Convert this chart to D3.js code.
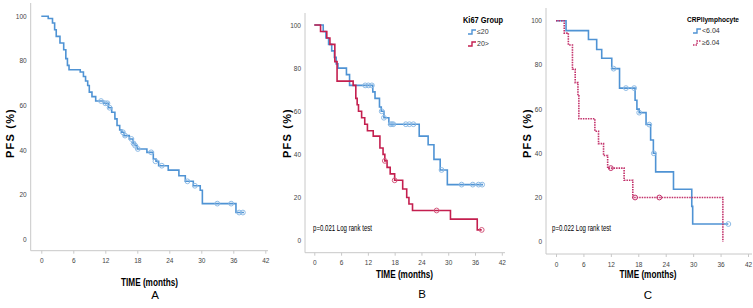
<!DOCTYPE html>
<html>
<head>
<meta charset="utf-8">
<script src="https://cdnjs.cloudflare.com/ajax/libs/d3/7.8.5/d3.min.js"></script>
<style>
  body { margin: 0; background: #fff; }
  svg { display: block; }
  .tick text { font-family: "Liberation Sans Narrow", "Liberation Sans", Arial, sans-serif; font-size: 6.5px; fill: #444; }
  .axis path, .axis line { stroke: #c8c8c8; }
  .ylab { font-family: "Liberation Sans", Arial, sans-serif; font-weight: bold; font-size: 11px; letter-spacing: 1.2px; }
  .xlab { font-family: "Liberation Sans", Arial, sans-serif; font-weight: bold; font-size: 11.5px; }
  .panel { font-family: "Liberation Sans", Arial, sans-serif; font-size: 11.5px; }
  .note { font-family: "Liberation Sans", Arial, sans-serif; font-size: 9.5px; }
  .legtitle { font-family: "Liberation Sans", Arial, sans-serif; font-weight: bold; }
  .legtext { font-family: "Liberation Sans", Arial, sans-serif; font-size: 7px; fill: #333; }
</style>
</head>
<body>
<svg id="chart" width="753" height="308"></svg>
<script>
// tick labels
var xTicks = [0, 6, 12, 18, 24, 30, 36, 42];
var yTicks = [0, 20, 40, 60, 80, 100];

// panel A - all patients
var aTime = [0, 1.3, 2.1, 2.5, 2.8, 3.5, 4.2, 4.6, 4.9, 5.2, 7.3, 7.9, 8.3, 8.7, 9.0, 9.5, 10.2, 11.7, 12.6, 13.2, 13.8, 14.2, 14.7, 15.1, 15.5, 16.5, 17.2, 17.6, 18.0, 19.8, 21.0, 21.5, 22.0, 23.8, 25.8, 27.0, 28.5, 29.8, 30.2, 36.5, 38.0];
var aSurv = [100, 99, 97, 94, 91, 88, 85, 81, 78, 76, 75, 73, 71, 69, 66, 64, 62, 61, 59, 57, 54, 51, 49, 48, 46.5, 45, 43, 42, 40.5, 39, 36, 35, 33, 31, 28.5, 26, 24, 22, 16, 12, 12];
var aCensT = [11.2, 12.0, 12.4, 12.8, 15.3, 15.7, 16.9, 17.3, 17.6, 18.1, 20.6, 21.4, 22.6, 27.4, 28.8, 33.0, 35.6, 37.1, 37.8];
var aCensS = [62, 61, 61, 59, 48, 46.5, 45, 43, 42, 40.5, 39, 35, 33, 26, 24, 16, 16, 12, 12];

// panel B - Ki67 <=20
var bLoTime = [0, 2.0, 2.6, 3.2, 3.9, 4.5, 4.9, 5.3, 7.2, 7.9, 13.1, 13.6, 14.6, 15.0, 15.6, 16.7, 23.5, 25.5, 26.8, 28.2, 29.8, 37.8];
var bLoSurv = [100, 97, 94, 91, 88, 85, 82, 80, 77, 72, 69, 66, 62, 60, 57, 54, 48.5, 44.5, 37.7, 32.8, 26, 26];
var bLoCensT = [11.4, 12.1, 12.9, 15.1, 15.6, 17.1, 17.4, 17.7, 20.5, 21.3, 22.2, 28.5, 33.0, 35.5, 36.8, 37.6];
var bLoCensS = [72, 72, 72, 60, 57, 54, 54, 54, 54, 54, 54, 32.8, 26, 26, 26, 26];
// panel B - Ki67 20>
var bHiTime = [0, 1.4, 2.8, 3.5, 4.6, 5.1, 8.7, 9.3, 9.6, 9.9, 10.6, 11.3, 11.9, 13.2, 14.7, 15.4, 15.8, 16.3, 17.0, 18.0, 19.8, 20.7, 21.2, 22.0, 30.5, 36.5, 37.5];
var bHiSurv = [100, 97, 94, 91, 83, 74, 72, 66, 63, 60, 57, 54, 51, 48.5, 43, 40, 37, 34, 31, 28, 24, 20, 17, 14, 10, 5, 5];
var bHiCensT = [15.8, 18.0, 27.4, 37.5];
var bHiCensS = [37, 28, 14, 5];

// panel C - CRP/lymphocyte <6.04
var cLoTime = [0, 2.2, 7.1, 8.9, 10.0, 12.2, 13.9, 17.3, 17.7, 18.2, 19.7, 20.7, 21.3, 21.8, 25.7, 29.7, 29.9, 37.7];
var cLoSurv = [100, 95.5, 91.5, 87, 83, 78.3, 69.5, 64, 60, 58.4, 53, 46, 40, 31.6, 23.7, 16, 8, 8];
var cLoCensT = [12.6, 15.3, 17.1, 18.2, 20.4, 21.4, 37.7];
var cLoCensS = [78.3, 69.5, 69.5, 58.4, 53, 40, 8];
// panel C - CRP/lymphocyte >=6.04
var cHiTime = [0, 1.8, 2.7, 3.6, 4.2, 4.8, 5.0, 8.5, 9.3, 10.4, 11.3, 14.9, 16.8, 36.5];
var cHiSurv = [100, 94.4, 89, 78, 72, 66, 55.6, 50, 44.4, 39, 33.3, 27.8, 20, 0];
var cHiCensT = [12.0, 17.3, 22.6];
var cHiCensS = [33.3, 20, 20];

var blue = "#4f93d4", blueLight = "#8dbbe6";
var red = "#c41f4f", redLight = "#d45a7e";

var svg = d3.select("#chart");

function zip(t, s) {
    return t.map(function(d, i) { return { t: d, s: s[i] }; });
}

// squeeze text to the narrow width seen in the picture
function narrow(sel, w) {
    sel.attr("textLength", w).attr("lengthAdjust", "spacingAndGlyphs");
}

// one Kaplan-Meier panel
function panel(p) {
    var x = d3.scaleLinear().domain([0, 42]).range([p.x0, p.x42]);
    var y = d3.scaleLinear().domain([0, 100]).range([p.y0, p.y100]);
    var g = svg.append("g");

    // axis lines
    g.append("line")
        .attr("x1", p.axisX).attr("x2", p.axisX).attr("y1", p.top).attr("y2", p.axisY)
        .style("stroke", "#c8c8c8");
    g.append("line")
        .attr("x1", p.axisX).attr("x2", p.right).attr("y1", p.axisY).attr("y2", p.axisY)
        .style("stroke", "#c8c8c8");

    g.append("g").attr("class", "axis")
        .attr("transform", "translate(0," + p.axisY + ")")
        .call(d3.axisBottom(x).tickValues(xTicks).tickSize(3).tickPadding(5))
        .call(function(a) { a.select(".domain").remove(); });

    g.append("g").attr("class", "axis")
        .attr("transform", "translate(" + p.axisX + ",0)")
        .call(d3.axisLeft(y).tickValues(yTicks).tickSize(0).tickPadding(4))
        .call(function(a) { a.select(".domain").remove(); });

    // curves
    var line = d3.line()
        .x(function(d) { return x(d.t); })
        .y(function(d) { return y(d.s); })
        .curve(d3.curveStepAfter);

    p.series.forEach(function(s) {
        g.append("path")
            .datum(zip(s.time, s.surv))
            .attr("d", line)
            .style("fill", "none")
            .style("stroke", s.color)
            .style("stroke-width", 1.6)
            .style("stroke-dasharray", s.dash || null);

        g.selectAll(null)
            .data(zip(s.censT, s.censS))
            .enter()
            .append("circle")
            .attr("cx", function(d) { return x(d.t); })
            .attr("cy", function(d) { return y(d.s); })
            .attr("r", 2.4)
            .style("fill", "none")
            .style("stroke", s.light)
            .style("stroke-width", 1);
    });

    // labels
    g.append("text").attr("class", "ylab")
        .attr("transform", "translate(" + p.ylabX + "," + p.ylabY + ") rotate(-90)")
        .attr("text-anchor", "middle").attr("dy", "0.35em")
        .text("PFS (%)");
    g.append("text").attr("class", "xlab")
        .attr("x", p.xlabX - 28).attr("y", p.xlabY).attr("dy", "0.35em")
        .text("TIME (months)")
        .call(narrow, 57);
    g.append("text").attr("class", "panel")
        .attr("x", p.letterX).attr("y", p.letterY).attr("dy", "0.35em")
        .attr("text-anchor", "middle")
        .text(p.letter);

    if (p.note) {
        g.append("text").attr("class", "note")
            .attr("x", p.noteX).attr("y", p.noteY).attr("dy", "0.35em")
            .text(p.note)
            .call(narrow, 59);
    }

    if (p.legend) {
        g.append("text").attr("class", "legtitle")
            .attr("x", p.legX).attr("y", p.legY).attr("dy", "0.35em")
            .style("font-size", p.legSize + "px")
            .text(p.legend)
            .call(narrow, p.legW);
        p.series.forEach(function(s, i) {
            var ly = p.legY + p.legGap * (i + 1);
            var lx = p.legX + p.legIcon;
            g.append("path")
                .attr("d", "M" + lx + "," + (ly + 2) + "h4v-4h4")
                .style("fill", "none")
                .style("stroke", s.color)
                .style("stroke-width", 1.4)
                .style("stroke-dasharray", s.dash || null);
            g.append("text").attr("class", "legtext")
                .attr("x", lx + 9).attr("y", ly).attr("dy", "0.35em")
                .text(s.name);
        });
    }
}

panel({
    x0: 41.3, x42: 265.3, y0: 239.3, y100: 16.3,
    axisX: 30.7, axisY: 250.7, top: 3, right: 268,
    ylabX: 10, ylabY: 133, xlabX: 149, xlabY: 282, letterX: 155, letterY: 295, letter: "A",
    series: [{ time: aTime, surv: aSurv, censT: aCensT, censS: aCensS, color: blue, light: blueLight }]
});

panel({
    x0: 314.3, x42: 501.8, y0: 240.7, y100: 25,
    axisX: 305, axisY: 252.7, top: 13, right: 505,
    ylabX: 287, ylabY: 133, xlabX: 404, xlabY: 274, letterX: 422, letterY: 294, letter: "B",
    note: "p=0.021 Log rank test", noteX: 313, noteY: 228,
    legend: "Ki67 Group", legX: 463, legY: 20, legGap: 12, legIcon: 5, legW: 40, legSize: 9.5,
    series: [
        { name: "\u226420", time: bLoTime, surv: bLoSurv, censT: bLoCensT, censS: bLoCensS, color: blue, light: blueLight },
        { name: "20>", time: bHiTime, surv: bHiSurv, censT: bHiCensT, censS: bHiCensS, color: red, light: redLight }
    ]
});

panel({
    x0: 556, x42: 748, y0: 241.7, y100: 20.7,
    axisX: 546, axisY: 254, top: 8, right: 752,
    ylabX: 527, ylabY: 133, xlabX: 647.5, xlabY: 274, letterX: 648, letterY: 295, letter: "C",
    note: "p=0.022 Log rank test", noteX: 552, noteY: 228,
    legend: "CRPllymphocyte", legX: 687, legY: 19, legGap: 12, legIcon: 6, legW: 52, legSize: 8,
    series: [
        { name: "<6.04", time: cLoTime, surv: cLoSurv, censT: cLoCensT, censS: cLoCensS, color: blue, light: blueLight },
        { name: "\u22656.04", time: cHiTime, surv: cHiSurv, censT: cHiCensT, censS: cHiCensS, color: "#c2306a", light: "#c2306a", dash: "1.5,1" }
    ]
});
</script>
</body>
</html>
